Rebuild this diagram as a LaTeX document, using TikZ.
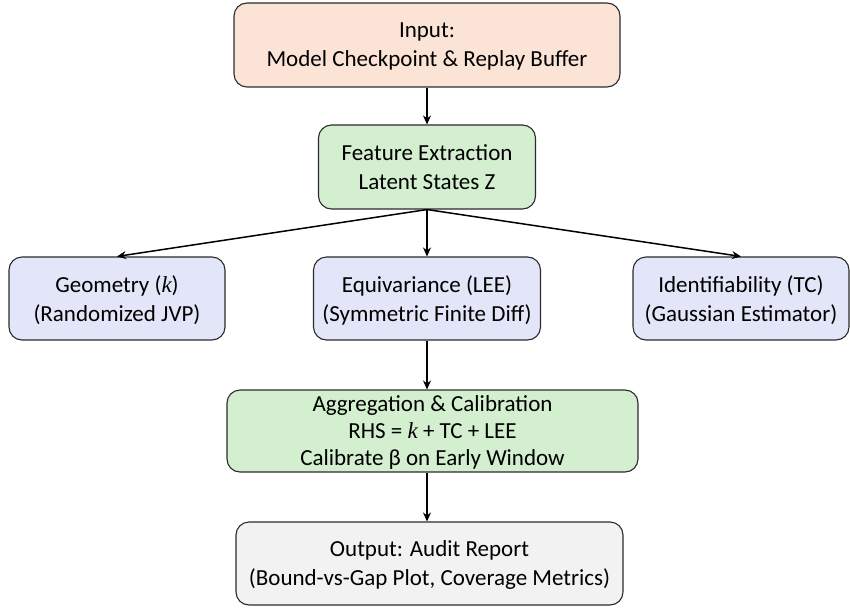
\documentclass[tikz,border=0pt]{standalone}
\usepackage{fontspec}
\setmainfont{Carlito}
\newfontfamily\mfont{Liberation Serif}
\usetikzlibrary{arrows.meta}
\definecolor{peach}{HTML}{FBE3D6}
\definecolor{mint}{HTML}{D3EFD0}
\definecolor{lav}{HTML}{E3E5F8}
\definecolor{pale}{HTML}{F2F2F2}
\definecolor{edge}{HTML}{2B2B2B}
\newcommand{\kk}{{\mfont\itshape k}}
\tikzset{
  box/.style={draw=edge, line width=1.1pt, rounded corners=13pt, align=center,
    inner sep=0pt, font=\fontsize{23}{29}\selectfont, text depth=0pt},
  conn/.style={line width=1.5pt, -{Stealth[length=9pt,width=8pt]}},
}
\begin{document}
\begin{tikzpicture}[x=1pt,y=-1pt]
\useasboundingbox (0,0) rectangle (850,607);
\node[box, fill=peach, minimum width=386pt, minimum height=84pt] (in) at (427,45) {Input:\\Model Checkpoint \& Replay Buffer};
\node[box, fill=mint, minimum width=217pt, minimum height=84pt] (feat) at (427,167) {Feature Extraction\\Latent States Z};
\node[box, fill=lav, minimum width=216pt, minimum height=83pt] (geo) at (117,298.5) {Geometry (\kk)\\(Randomized JVP)};
\node[box, fill=lav, minimum width=227pt, minimum height=83pt] (equi) at (427,298.5) {Equivariance (LEE)\\(Symmetric Finite Diff)};
\node[box, fill=lav, minimum width=216pt, minimum height=83pt] (ident) at (741,298.5) {Identifiability (TC)\\(Gaussian Estimator)};
\node[box, fill=mint, minimum width=411pt, minimum height=82pt, font=\fontsize{23}{27}\selectfont] (agg) at (432.5,431) {Aggregation \& Calibration\\RHS = \kk{} + TC + LEE\\Calibrate β on Early Window};
\node[box, fill=pale, minimum width=387pt, minimum height=83pt] (out) at (429.5,563.5) {Output: Audit Report\\(Bound-vs-Gap Plot, Coverage Metrics)};
\draw[conn] (in.south -| feat.north) -- (feat.north);
\draw[conn] (feat.south) -- (geo.north);
\draw[conn] (feat.south) -- (equi.north);
\draw[conn] (feat.south) -- (ident.north);
\draw[conn] (equi.south) -- (agg.north -| equi.south);
\draw[conn] (agg.south -| equi.south) -- (out.north -| equi.south);
\end{tikzpicture}
\end{document}
